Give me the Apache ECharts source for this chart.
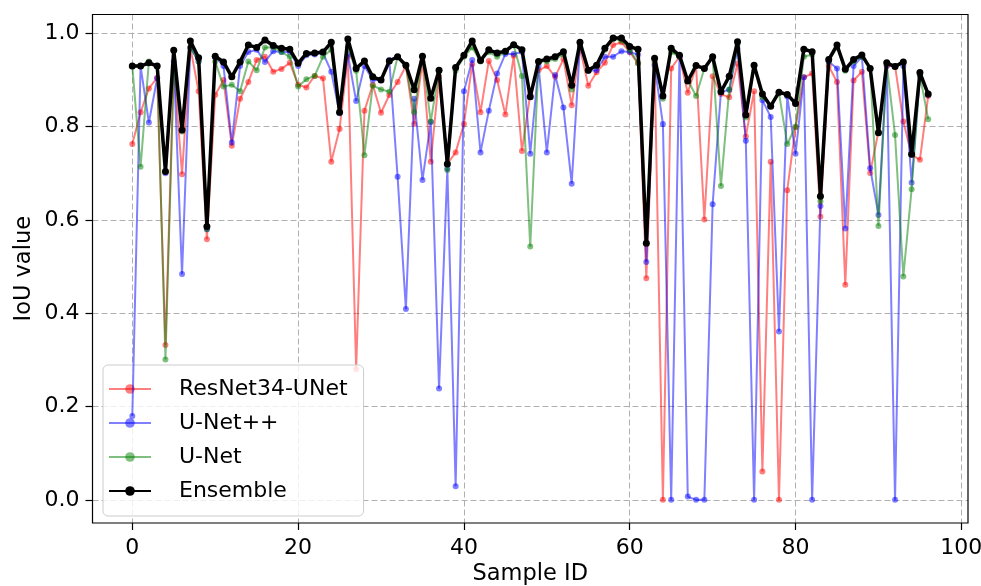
<!DOCTYPE html>
<html>
<head>
<meta charset="utf-8">
<title>IoU per sample</title>
<script src="https://cdn.jsdelivr.net/npm/echarts@6/dist/echarts.min.js"></script>
<style>
  html, body { margin: 0; padding: 0; background: #fff; }
  #main { width: 981px; height: 586px; }
</style>
</head>
<body>
<div id="main"></div>
<script>
// values, sample 0..96
const resnet = [0.763,0.831,0.882,0.905,0.332,0.93,0.698,0.97,0.876,0.559,
  0.868,0.9,0.759,0.86,0.896,0.943,0.95,0.918,0.924,0.937,
  0.89,0.884,0.909,0.904,0.725,0.795,0.95,0.28,0.834,0.89,
  0.83,0.868,0.896,0.93,0.806,0.94,0.725,0.907,0.72,0.745,
  0.806,0.934,0.831,0.941,0.9,0.826,0.952,0.748,0.87,0.921,
  0.93,0.907,0.945,0.846,0.97,0.888,0.917,0.937,0.975,0.981,
  0.96,0.936,0.475,0.935,0.0,0.925,0.95,0.873,0.93,0.601,
  0.908,0.87,0.863,0.935,0.779,0.876,0.061,0.725,0.0,0.664,
  0.799,0.906,0.914,0.607,0.93,0.896,0.461,0.899,0.918,0.701,
  0.79,0.93,0.93,0.811,0.74,0.729,0.866];
const unetpp = [0.18,0.93,0.809,0.904,0.70,0.94,0.484,0.97,0.94,0.58,
  0.95,0.93,0.766,0.93,0.96,0.965,0.939,0.962,0.96,0.96,
  0.93,0.953,0.955,0.958,0.918,0.829,0.955,0.855,0.93,0.9,
  0.9,0.943,0.693,0.409,0.86,0.686,0.81,0.239,0.71,0.029,
  0.876,0.943,0.745,0.834,0.914,0.956,0.956,0.96,0.742,0.93,
  0.745,0.911,0.841,0.678,0.975,0.92,0.921,0.95,0.95,0.962,
  0.96,0.955,0.51,0.931,0.806,0.0,0.95,0.007,0.0,0.0,
  0.634,0.875,0.879,0.967,0.77,0.0,0.857,0.821,0.361,0.865,
  0.742,0.906,0.0,0.63,0.94,0.925,0.582,0.93,0.95,0.711,
  0.611,0.93,0.0,0.93,0.68,0.91,0.868];
const unet = [0.93,0.714,0.94,0.93,0.301,0.92,0.79,0.97,0.94,0.58,
  0.94,0.886,0.89,0.876,0.94,0.921,0.97,0.97,0.96,0.95,
  0.886,0.902,0.909,0.95,0.965,0.83,0.97,0.92,0.739,0.888,
  0.88,0.875,0.95,0.93,0.831,0.95,0.811,0.92,0.707,0.92,
  0.95,0.97,0.94,0.96,0.95,0.96,0.975,0.909,0.543,0.94,
  0.94,0.945,0.955,0.88,0.975,0.92,0.93,0.965,0.988,0.985,
  0.965,0.936,0.55,0.94,0.86,0.96,0.95,0.9,0.866,0.925,
  0.948,0.673,0.88,0.975,0.82,0.93,0.863,0.845,0.872,0.763,
  0.80,0.95,0.955,0.64,0.94,0.97,0.92,0.94,0.95,0.925,
  0.587,0.935,0.782,0.479,0.666,0.91,0.816];
const ensemble = [0.93,0.93,0.937,0.93,0.704,0.964,0.793,0.984,0.948,0.586,
  0.951,0.939,0.907,0.939,0.975,0.97,0.986,0.974,0.968,0.966,
  0.936,0.957,0.958,0.96,0.981,0.831,0.988,0.925,0.941,0.907,
  0.9,0.941,0.95,0.932,0.879,0.951,0.861,0.921,0.72,0.927,
  0.953,0.984,0.942,0.965,0.958,0.962,0.976,0.965,0.864,0.94,
  0.945,0.95,0.961,0.889,0.981,0.921,0.932,0.968,0.99,0.99,
  0.972,0.966,0.55,0.947,0.866,0.968,0.953,0.898,0.931,0.925,
  0.95,0.875,0.908,0.982,0.825,0.932,0.87,0.844,0.874,0.869,
  0.85,0.966,0.961,0.651,0.944,0.975,0.923,0.944,0.954,0.925,
  0.787,0.937,0.929,0.939,0.741,0.916,0.87];

const seriesNames = ['ResNet34-UNet', 'U-Net++', 'U-Net', 'Ensemble'];
const seriesValues = [resnet, unetpp, unet, ensemble];
const seriesColors = ['#ff0000', '#0000ff', '#008000', '#000000'];

// axis limits (matplotlib style 5% margins) and tick steps
const xLim = [-4.8, 100.8], xTicks = [0, 100], xStep = 20;
const yLim = [-0.0496, 1.0406], yTicks = [0, 1], yStep = 0.2;

const font = 'DejaVu Sans';
const W = 981, H = 586;
// plot frame in pixels
const frame = { left: 92.5, right: 968, top: 14.5, bottom: 523 };
const px = v => frame.left + (v - xLim[0]) / (xLim[1] - xLim[0]) * (frame.right - frame.left);
const py = v => frame.bottom - (v - yLim[0]) / (yLim[1] - yLim[0]) * (frame.bottom - frame.top);

const toPairs = arr => arr.map((v, i) => [i, v]);

const series = seriesNames.map((name, k) => {
  const isEns = name === 'Ensemble';
  return {
    name: name,
    type: 'line',
    xAxisIndex: 0, yAxisIndex: 0,
    data: toPairs(seriesValues[k]),
    symbol: 'circle',
    symbolSize: isEns ? 7 : 6,
    showSymbol: true,
    z: 3 + k,
    lineStyle: { color: seriesColors[k], width: isEns ? 3.5 : 2, opacity: isEns ? 1 : 0.5 },
    itemStyle: { color: seriesColors[k], opacity: isEns ? 1 : 0.5 },
    emphasis: { disabled: true }
  };
});

const tickLine = { show: true, inside: false, length: 7, lineStyle: { color: '#000', width: 1.2 } };
const gridLine = { show: true, lineStyle: { color: '#b0b0b0', type: [6, 3], width: 1 } };
const tickFont = { fontFamily: font, fontSize: 22, color: '#000' };
const nameFont = { fontFamily: font, fontSize: 22.5, color: '#000' };

const chart = echarts.init(document.getElementById('main'));
chart.setOption({
  animation: false,
  grid: [
    // 0: frame + data
    { left: frame.left, right: W - frame.right, top: frame.top, bottom: H - frame.bottom,
      outerBoundsMode: 'none', containLabel: false,
      show: true, borderColor: '#000', borderWidth: 1.2, backgroundColor: 'transparent', z: 5 },
    // 1: x ticks 0..100
    { left: px(xTicks[0]), right: W - px(xTicks[1]), top: frame.top, bottom: H - frame.bottom,
      outerBoundsMode: 'none', containLabel: false },
    // 2: y ticks 0..1
    { left: frame.left, right: W - frame.right, top: py(yTicks[1]), bottom: H - py(yTicks[0]),
      outerBoundsMode: 'none', containLabel: false }
  ],
  xAxis: [
    { gridIndex: 0, type: 'value', min: xLim[0], max: xLim[1],
      name: 'Sample ID', nameLocation: 'middle', nameGap: 40, nameTextStyle: nameFont,
      axisLine: { show: false }, axisTick: { show: false }, axisLabel: { show: false }, splitLine: { show: false } },
    { gridIndex: 1, type: 'value', min: xTicks[0], max: xTicks[1], interval: xStep,
      axisLine: { show: false }, axisTick: tickLine,
      axisLabel: Object.assign({ margin: 14 }, tickFont),
      splitLine: gridLine },
    { gridIndex: 2, type: 'value', min: 0, max: 1, show: false }
  ],
  yAxis: [
    { gridIndex: 0, type: 'value', min: yLim[0], max: yLim[1],
      name: 'IoU value', nameLocation: 'middle', nameGap: 57, nameRotate: 90, nameTextStyle: nameFont,
      axisLine: { show: false }, axisTick: { show: false }, axisLabel: { show: false }, splitLine: { show: false } },
    { gridIndex: 1, type: 'value', min: 0, max: 1, show: false },
    { gridIndex: 2, type: 'value', min: yTicks[0], max: yTicks[1], interval: yStep,
      axisLine: { show: false }, axisTick: tickLine,
      axisLabel: Object.assign({ margin: 13, formatter: v => v.toFixed(1) }, tickFont),
      splitLine: gridLine }
  ],
  legend: {
    data: seriesNames,
    orient: 'vertical',
    left: 103, top: 365,
    itemWidth: 42, itemHeight: 12, itemGap: 12,
    padding: [13, 16, 14, 5],
    backgroundColor: 'rgba(255,255,255,0.8)',
    borderColor: '#cccccc', borderWidth: 1, borderRadius: 5,
    textStyle: { fontFamily: font, fontSize: 22, color: '#000', padding: [0, 0, 0, 23] }
  },
  series: series
});
</script>
</body>
</html>
